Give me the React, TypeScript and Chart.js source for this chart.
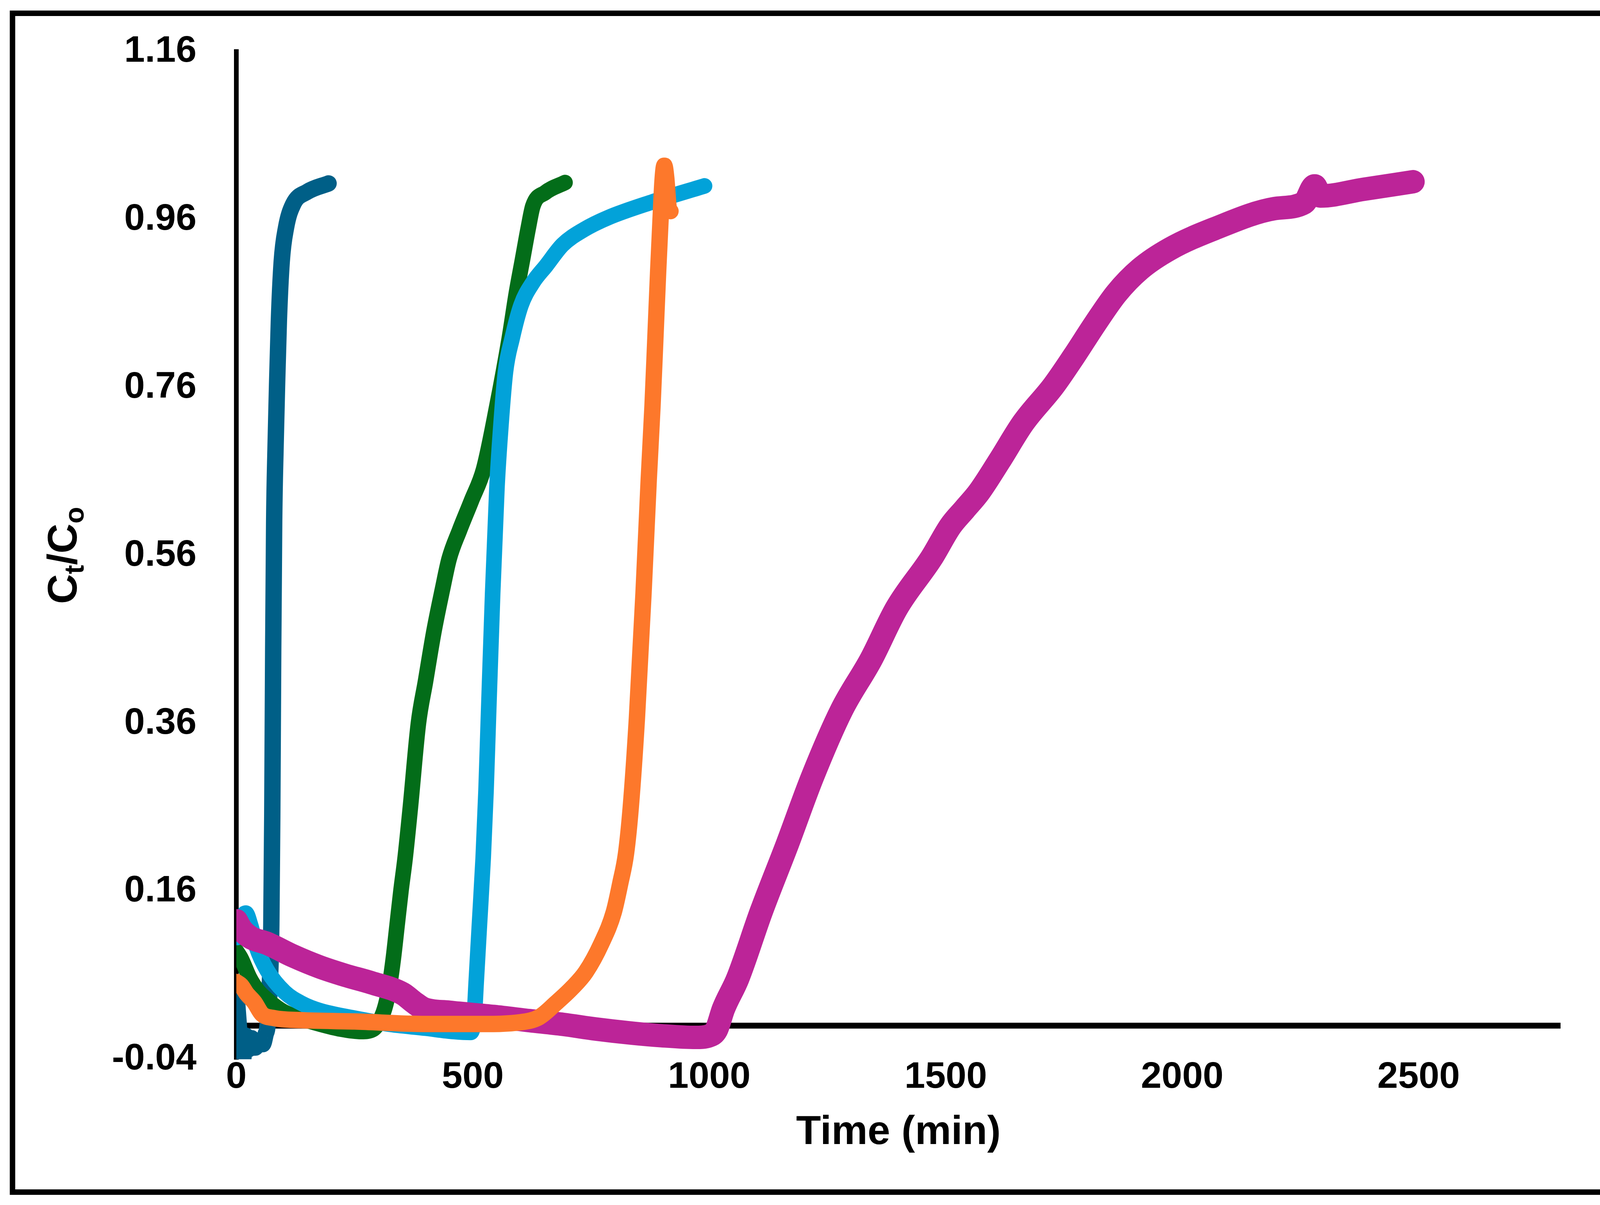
import { useEffect, useRef } from 'react';
import Chart from 'chart.js/auto';

// axis ticks
const xTickValues = [0, 500, 1000, 1500, 2000, 2500];
const yTickValues = [-0.04, 0.16, 0.36, 0.56, 0.76, 0.96, 1.16];

// breakthrough curves (time in min, Ct/Co)
const darkBlueTime = [0, 4, 9, 14, 20, 26, 32, 40, 48, 56, 62, 66, 70, 74, 76, 78, 80, 83, 86, 90, 96, 105, 120, 150, 195];
const darkBlueRatio = [0.04, 0.01, -0.025, -0.04, -0.012, -0.028, -0.015, -0.026, -0.018, -0.022, -0.01, 0.0, 0.04, 0.12, 0.25, 0.45, 0.6, 0.69, 0.76, 0.84, 0.91, 0.95, 0.978, 0.993, 1.003];

const greenTime = [0, 10, 28, 45, 65, 85, 102, 140, 176, 220, 264, 290, 309, 318, 324, 332, 340, 348, 357, 368, 385, 400, 418, 436, 450, 472, 497, 523, 551, 577, 592, 605, 618, 627, 653, 695];
const greenRatio = [0.089, 0.08, 0.057, 0.042, 0.031, 0.022, 0.016, 0.008, 0.002, -0.004, -0.007, -0.004, 0.013, 0.03, 0.048, 0.08, 0.12, 0.16, 0.2, 0.26, 0.36, 0.41, 0.47, 0.52, 0.556, 0.59, 0.625, 0.663, 0.738, 0.818, 0.872, 0.912, 0.952, 0.976, 0.992, 1.004];

const lightBlueTime = [2, 10, 20, 30, 43, 65, 102, 140, 176, 249, 320, 400, 460, 495, 503, 507, 514, 522, 528, 533, 542, 551, 559, 569, 583, 602, 627, 655, 690, 735, 785, 880, 990];
const lightBlueRatio = [0.105, 0.126, 0.134, 0.12, 0.093, 0.066, 0.04, 0.026, 0.018, 0.009, 0.002, -0.003, -0.007, -0.008, 0.01, 0.05, 0.12, 0.2, 0.28, 0.366, 0.515, 0.64, 0.711, 0.778, 0.818, 0.858, 0.885, 0.905, 0.93, 0.948, 0.962, 0.981, 1.0];

const orangeTime = [0, 10, 22, 38, 54, 80, 136, 250, 400, 520, 600, 640, 676, 710, 739, 772, 798, 812, 824, 834, 847, 861, 872, 880, 886, 892, 897, 901, 905, 909, 914, 918];
const orangeRatio = [0.052, 0.048, 0.038, 0.028, 0.014, 0.009, 0.0066, 0.005, 0.002, 0.002, 0.004, 0.01, 0.027, 0.045, 0.064, 0.098, 0.135, 0.17, 0.205, 0.26, 0.366, 0.515, 0.65, 0.738, 0.818, 0.899, 0.96, 1.005, 1.024, 1.01, 0.975, 0.97];

const magentaTime = [0, 10, 30, 65, 120, 176, 230, 286, 352, 375, 397, 450, 544, 620, 691, 760, 838, 900, 971, 1000, 1015, 1030, 1060, 1110, 1165, 1218, 1280, 1342, 1396, 1470, 1510, 1540, 1570, 1614, 1664, 1728, 1772, 1816, 1861, 1911, 1974, 2068, 2195, 2258, 2280, 2292, 2384, 2488];
const magentaRatio = [0.125, 0.115, 0.105, 0.098, 0.083, 0.07, 0.06, 0.051, 0.038, 0.028, 0.02, 0.016, 0.011, 0.006, 0.0015, -0.004, -0.009, -0.012, -0.014, -0.012, -0.005, 0.02, 0.056, 0.136, 0.216, 0.296, 0.376, 0.436, 0.497, 0.557, 0.595, 0.615, 0.635, 0.673, 0.718, 0.762, 0.798, 0.836, 0.872, 0.901, 0.925, 0.949, 0.973, 0.98, 1.0, 0.988, 0.996, 1.005];

const WIDTH = 4214;
const HEIGHT = 3084;
const FONT = '"Liberation Sans", Arial, sans-serif';

const toPoints = (t: number[], c: number[]) => t.map((x, i) => ({ x, y: c[i] }));

// white page, outer frame, y title with subscripts, x axis line at y = 0
const decorations = {
  id: 'decorations',
  beforeDraw(chart: Chart) {
    const { ctx } = chart;
    ctx.save();
    ctx.fillStyle = '#fff';
    ctx.fillRect(0, 0, chart.width, chart.height);
    ctx.strokeStyle = '#000';
    ctx.lineWidth = 14;
    ctx.strokeRect(32, 34, 4148, 3017);
    ctx.restore();
  },
  beforeDatasetsDraw(chart: Chart) {
    const { ctx, chartArea } = chart;
    const y0 = chart.scales.y.getPixelForValue(0);
    ctx.save();
    ctx.strokeStyle = '#000';
    ctx.lineWidth = 15;
    ctx.beginPath();
    ctx.moveTo(chartArea.left, y0);
    ctx.lineTo(chartArea.right, y0);
    ctx.stroke();
    ctx.restore();
  },
  afterDraw(chart: Chart) {
    const { ctx, chartArea } = chart;
    const big = `bold 106px ${FONT}`;
    const small = `bold 70px ${FONT}`;
    const parts = [
      { text: 'C', font: big, dy: 0 },
      { text: 't', font: small, dy: 18 },
      { text: '/C', font: big, dy: 0 },
      { text: 'o', font: small, dy: 18 },
    ];
    ctx.save();
    let total = 0;
    const widths = parts.map((p) => {
      ctx.font = p.font;
      const w = ctx.measureText(p.text).width;
      total += w;
      return w;
    });
    ctx.translate(196, (chartArea.top + chartArea.bottom) / 2);
    ctx.rotate(-Math.PI / 2);
    ctx.fillStyle = '#000';
    ctx.textBaseline = 'alphabetic';
    ctx.textAlign = 'left';
    let x = -total / 2;
    parts.forEach((p, i) => {
      ctx.font = p.font;
      ctx.fillText(p.text, x, p.dy);
      x += widths[i];
    });
    ctx.restore();
  },
};

function line(data: { x: number; y: number }[], color: string, width: number) {
  return {
    data,
    borderColor: color,
    backgroundColor: color,
    borderWidth: width,
    borderCapStyle: 'round' as const,
    borderJoinStyle: 'round' as const,
    showLine: true,
    pointRadius: 0,
    cubicInterpolationMode: 'monotone' as const,
    fill: false,
  };
}

export default function App() {
  const canvasRef = useRef<HTMLCanvasElement>(null);
  const chartRef = useRef<Chart | null>(null);

  useEffect(() => {
    if (!canvasRef.current) return;
    if (chartRef.current) chartRef.current.destroy();

    chartRef.current = new Chart(canvasRef.current, {
      type: 'scatter',
      data: {
        // first dataset is drawn on top
        datasets: [
          line(toPoints(orangeTime, orangeRatio), '#FD782B', 42),
          line(toPoints(magentaTime, magentaRatio), '#BC2498', 60),
          line(toPoints(lightBlueTime, lightBlueRatio), '#02A2D9', 40),
          line(toPoints(greenTime, greenRatio), '#036D19', 40),
          line(toPoints(darkBlueTime, darkBlueRatio), '#005F87', 42),
        ],
      },
      options: {
        responsive: false,
        animation: false,
        layout: { padding: { top: 132, right: 219, bottom: 0, left: 0 } },
        plugins: {
          legend: { display: false },
          tooltip: { enabled: false },
          title: { display: false },
        },
        scales: {
          x: {
            type: 'linear',
            min: 0,
            max: 2800,
            grid: { display: false, drawTicks: false },
            border: { display: false },
            afterBuildTicks: (scale: any) => {
              scale.ticks = xTickValues.map((value) => ({ value }));
            },
            afterFit: (scale: any) => {
              scale.height = 373;
            },
            ticks: {
              color: '#000',
              padding: -10,
              maxRotation: 0,
              font: { family: FONT, size: 95, weight: 'bold' },
              callback: (v: any) => String(v),
            },
            title: {
              display: true,
              text: 'Time (min)',
              color: '#000',
              padding: { top: 0, bottom: 122 },
              font: { family: FONT, size: 104, weight: 'bold' },
            },
          },
          y: {
            type: 'linear',
            min: -0.04,
            max: 1.16,
            // tick marks are hidden, their length only spaces the labels from the axis
            grid: { display: false, drawTicks: true, tickLength: 102 },
            border: { display: true, color: '#000', width: 12 },
            afterBuildTicks: (scale: any) => {
              scale.ticks = yTickValues.map((value) => ({ value }));
            },
            afterFit: (scale: any) => {
              scale.width = 605;
            },
            ticks: {
              color: '#000',
              padding: 0,
              font: { family: FONT, size: 95, weight: 'bold' },
              callback: (v: any) => Number(v).toFixed(2),
            },
          },
        },
      },
      plugins: [decorations],
    });

    return () => {
      if (chartRef.current) {
        chartRef.current.destroy();
        chartRef.current = null;
      }
    };
  }, []);

  return (
    <div style={{ position: 'absolute', left: 0, top: 0, width: WIDTH, height: HEIGHT, background: '#fff' }}>
      <canvas ref={canvasRef} width={WIDTH} height={HEIGHT} style={{ width: WIDTH, height: HEIGHT, display: 'block' }} />
    </div>
  );
}
